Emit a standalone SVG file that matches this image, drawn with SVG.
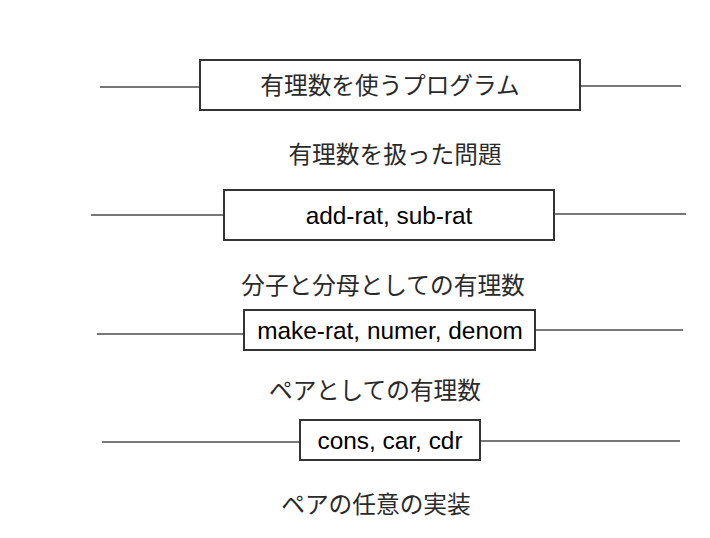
<svg xmlns="http://www.w3.org/2000/svg" width="710" height="538" viewBox="0 0 710 538">
<style>
.box{fill:#fff;stroke:#333;stroke-width:2}
.ln{stroke:#777;stroke-width:2;fill:none}
.jp{font-family:"Noto Sans CJK JP","Noto Sans",sans-serif;font-size:23.7px;fill:#2a2a2a;text-anchor:middle;dominant-baseline:central}
.en{font-family:"Liberation Sans",Arial,sans-serif;font-size:24.4px;fill:#000;text-anchor:middle;dominant-baseline:central}
</style>
<rect width="710" height="538" fill="#fff"/>
<g id="connectors">
<line class="ln" x1="100" y1="87" x2="200" y2="87"/>
<line class="ln" x1="580" y1="86" x2="681" y2="86"/>
<line class="ln" x1="91" y1="215" x2="224" y2="215"/>
<line class="ln" x1="554" y1="214" x2="686" y2="214"/>
<line class="ln" x1="97" y1="334" x2="244" y2="334"/>
<line class="ln" x1="535" y1="330" x2="683" y2="330"/>
<line class="ln" x1="102" y1="442" x2="300" y2="442"/>
<line class="ln" x1="480" y1="441" x2="680" y2="441"/>
</g>
<g id="node-program">
<rect class="box" x="200" y="60" width="380" height="50"/>
<text class="jp" x="390" y="84">有理数を使うプログラム</text>
</g>
<g id="label-problem">
<text class="jp" x="395" y="153">有理数を扱った問題</text>
</g>
<g id="node-addrat">
<rect class="box" x="224" y="190" width="330" height="50"/>
<text class="en" x="389" y="215">add-rat, sub-rat</text>
</g>
<g id="label-numden">
<text class="jp" x="383" y="284">分子と分母としての有理数</text>
</g>
<g id="node-makerat">
<rect class="box" x="244" y="310" width="291" height="40"/>
<text class="en" x="390" y="330">make-rat, numer, denom</text>
</g>
<g id="label-pair">
<text class="jp" x="375" y="389">ペアとしての有理数</text>
</g>
<g id="node-cons">
<rect class="box" x="300" y="420" width="180" height="40"/>
<text class="en" x="390" y="440">cons, car, cdr</text>
</g>
<g id="label-impl">
<text class="jp" x="376" y="503">ペアの任意の実装</text>
</g>
</svg>
